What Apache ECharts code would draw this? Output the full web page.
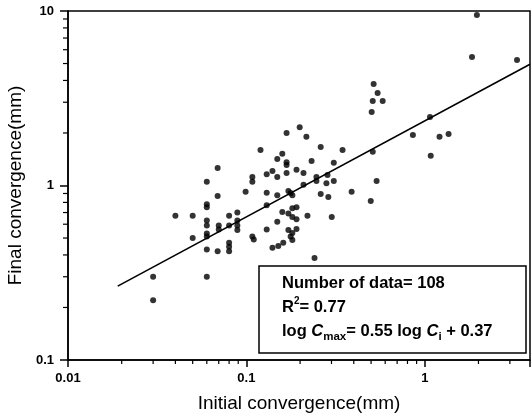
<!DOCTYPE html>
<html><head><meta charset="utf-8">
<script src="https://cdn.jsdelivr.net/npm/echarts@6/dist/echarts.min.js"></script>
<style>html,body{margin:0;padding:0;background:#fff}#c{width:532px;height:419px}</style>
</head><body><div id="c"></div>
<script>
// Initial convergence Ci (mm) — x values
const initialConvergence = [
  0.030,0.030,0.040,0.050,0.050,
  0.060,0.060,0.060,0.060,0.060,0.060,0.060,0.060,0.060,
  0.069,0.069,0.070,0.070,0.069,
  0.080,0.080,0.080,0.080,0.080,
  0.089,0.089,0.089,0.089,
  0.099,0.108,0.108,0.108,0.110,
  0.120,0.130,0.130,0.130,0.130,
  0.140,0.140,
  0.149,0.149,0.149,0.149,0.151,
  0.159,0.159,0.161,
  0.168,0.168,0.168,0.168,
  0.172,0.177,0.181,0.181,0.191,
  0.172,0.181,0.191,
  0.172,0.181,0.177,0.181,0.191,
  0.191,0.199,0.209,0.209,0.217,0.220,0.232,0.241,0.247,0.247,0.261,0.261,
  0.285,0.281,0.288,0.309,0.309,0.301,0.346,0.389,
  0.498,0.504,0.511,0.517,0.544,0.511,0.581,0.537,
  0.858,1.07,1.08,1.21,1.36,1.84,1.96,3.29
];
// Final convergence Cmax (mm) — y values
const finalConvergence = [
  0.30,0.22,0.67,0.67,0.50,
  1.05,0.78,0.75,0.63,0.59,0.53,0.51,0.43,0.30,
  1.26,0.87,0.59,0.56,0.42,
  0.67,0.59,0.47,0.445,0.42,
  0.70,0.63,0.59,0.556,
  0.92,1.12,1.05,0.51,0.49,
  1.60,1.16,0.91,0.77,0.56,
  1.21,0.44,
  1.42,1.12,0.88,0.62,0.45,
  1.52,0.705,0.47,
  2.00,1.36,1.31,1.18,
  0.93,0.906,0.88,0.74,0.75,
  0.69,0.66,0.64,
  0.556,0.535,0.51,0.487,0.563,
  1.23,2.16,1.18,1.01,1.90,0.67,1.38,0.384,1.12,1.06,1.66,0.894,
  1.15,1.03,0.86,1.35,1.06,0.66,1.60,0.92,
  0.815,2.64,1.56,3.82,3.39,3.05,3.05,1.06,
  1.95,2.47,1.48,1.90,1.97,5.45,9.49,5.24
];
// Regression line end points
const fitLineX = [0.019, 3.89];
const fitLineY = [0.265, 4.95];
// Axis ranges and ticks
const xRange = [0.01, 3.89];
const yRange = [0.1, 10];
const xMinorTicks = [0.02,0.03,0.04,0.05,0.06,0.07,0.08,0.09,0.2,0.3,0.4,0.5,0.6,0.7,0.8,0.9,2,3];
const yMinorTicks = [0.2,0.3,0.4,0.5,0.6,0.7,0.8,0.9,2,3,4,5,6,7,8,9];
const legendLines = ['Number of data= 108', 'R²= 0.77', 'log Cmax= 0.55 log Ci + 0.37'];

const FONT = '"Liberation Sans", Arial, sans-serif';
const chart = echarts.init(document.getElementById('c'), null, {renderer: 'canvas'});

const points = initialConvergence.map((x, i) => [x, finalConvergence[i]]);
const fitLine = fitLineX.map((x, i) => [x, fitLineY[i]]);

function powLabel(v) {
  const l = Math.log10(v);
  if (Math.abs(l - Math.round(l)) > 1e-6) return '';
  return String(+Math.pow(10, Math.round(l)).toPrecision(3));
}

function minorTickSeries(values, isX) {
  return {
    type: 'custom',
    silent: true,
    clip: false,
    z: 5,
    data: values.map(v => isX ? [v, yRange[0]] : [xRange[0], v]),
    renderItem: function (params, api) {
      const p = api.coord([api.value(0), api.value(1)]);
      const shape = isX
        ? {x1: p[0], y1: p[1], x2: p[0], y2: p[1] + 4}
        : {x1: p[0], y1: p[1], x2: p[0] - 5, y2: p[1]};
      return {type: 'line', shape: shape, style: {stroke: '#000', lineWidth: 1.2}};
    }
  };
}

const option = {
  animation: false,
  backgroundColor: '#fff',
  grid: {
    left: 68, right: 2, top: 11, bottom: 59,
    show: true, borderColor: '#000', borderWidth: 1.5,
    containLabel: false, outerBoundsMode: 'none'
  },
  xAxis: {
    type: 'log', logBase: 10, min: xRange[0], max: xRange[1],
    name: 'Initial convergence(mm)', nameLocation: 'middle', nameGap: 34,
    nameTextStyle: {fontFamily: FONT, fontSize: 19, color: '#000'},
    axisLine: {show: true, lineStyle: {color: '#000', width: 1.5}},
    axisTick: {show: true, inside: false, length: 7, lineStyle: {color: '#000', width: 1.5}},
    axisLabel: {formatter: powLabel, margin: 12, fontFamily: FONT, fontSize: 13, fontWeight: 'bold', color: '#000'},
    splitLine: {show: false}, minorTick: {show: false}
  },
  yAxis: {
    type: 'log', logBase: 10, min: yRange[0], max: yRange[1],
    name: 'Final convergence(mm)', nameLocation: 'middle', nameGap: 42, nameRotate: 90,
    nameTextStyle: {fontFamily: FONT, fontSize: 19, color: '#000'},
    axisLine: {show: true, lineStyle: {color: '#000', width: 1.5}},
    axisTick: {show: true, inside: false, length: 8, lineStyle: {color: '#000', width: 1.5}},
    axisLabel: {formatter: powLabel, margin: 14, fontFamily: FONT, fontSize: 13, fontWeight: 'bold', color: '#000'},
    splitLine: {show: false}, minorTick: {show: false}
  },
  series: [
    {
      type: 'scatter', data: points, symbol: 'circle', symbolSize: 6,
      itemStyle: {color: '#000'}, z: 3
    },
    {
      type: 'line', data: fitLine, symbol: 'none',
      lineStyle: {color: '#000', width: 1.6}, z: 2
    },
    minorTickSeries(xMinorTicks, true),
    minorTickSeries(yMinorTicks, false)
  ],
  graphic: [
    {
      type: 'rect', shape: {x: 259, y: 266, width: 267, height: 87},
      style: {fill: '#fff', stroke: '#000', lineWidth: 1.5}, z: 100
    },
    {
      type: 'text', x: 282, y: 283, z: 101,
      style: {text: legendLines[0], font: 'bold 16.5px ' + FONT, fill: '#000', verticalAlign: 'middle'}
    },
    {
      type: 'text', x: 282, y: 307, z: 101,
      style: {
        text: '{t|R}{sup|2}{t|= 0.77}', verticalAlign: 'middle', fill: '#000',
        rich: {
          t: {fontFamily: FONT, fontWeight: 'bold', fontSize: 16.5, lineHeight: 22, verticalAlign: 'middle'},
          sup: {fontFamily: FONT, fontWeight: 'bold', fontSize: 10, lineHeight: 22, verticalAlign: 'top'}
        }
      }
    },
    {
      type: 'text', x: 282, y: 331, z: 101,
      style: {
        text: '{t|log }{c|C}{sub|max}{t|= 0.55 log }{c|C}{sub|i}{t| + 0.37}', verticalAlign: 'middle', fill: '#000',
        rich: {
          t: {fontFamily: FONT, fontWeight: 'bold', fontSize: 16.5, lineHeight: 24, verticalAlign: 'middle'},
          c: {fontFamily: FONT, fontWeight: 'bold', fontStyle: 'italic', fontSize: 16.5, lineHeight: 24, verticalAlign: 'middle'},
          sub: {fontFamily: FONT, fontWeight: 'bold', fontSize: 11.5, lineHeight: 24, verticalAlign: 'bottom'}
        }
      }
    }
  ]
};
chart.setOption(option);
</script>
</body></html>
